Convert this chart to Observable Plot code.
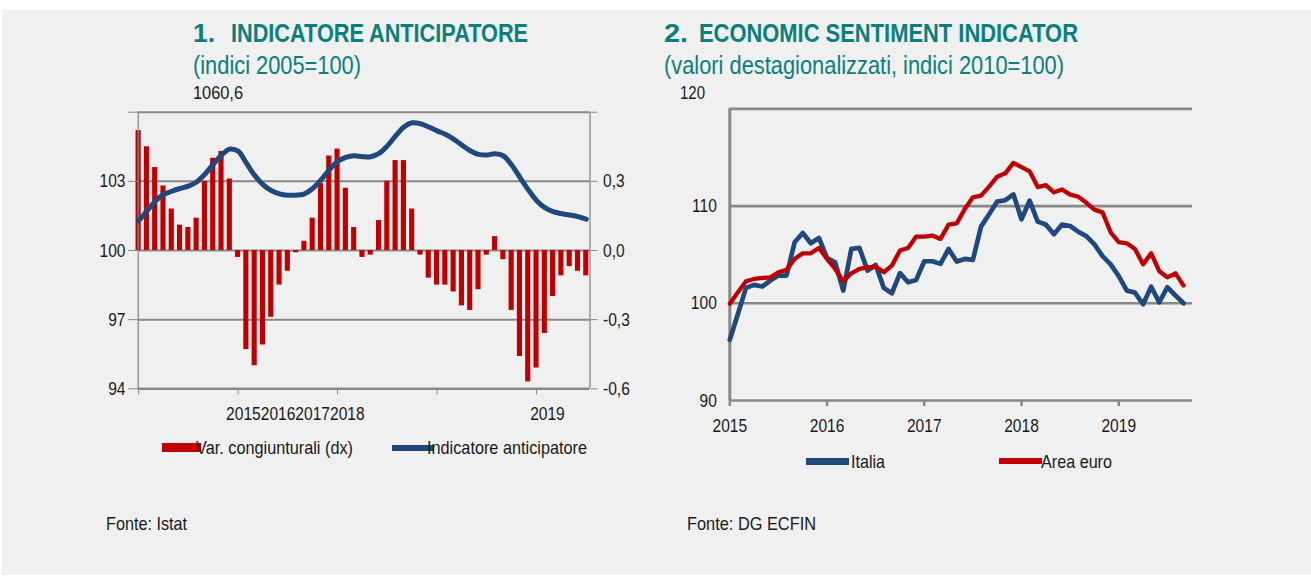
<!DOCTYPE html>
<html><head><meta charset="utf-8">
<script src="https://cdn.jsdelivr.net/npm/d3@7"></script>
<script src="https://cdn.jsdelivr.net/npm/@observablehq/plot@0.6"></script>
<style>
html,body{margin:0;padding:0;background:#fff;}
body{width:1311px;height:578px;overflow:hidden;position:relative;font-family:"Liberation Sans",Arial,sans-serif;}
#bg{position:absolute;left:2px;top:10px;width:1309px;height:565px;background:#f0f0f0;}
.t{position:absolute;white-space:nowrap;line-height:1;color:#1a1a1a;transform-origin:0 50%;}
.sw{position:absolute;}
svg{position:absolute;overflow:visible;}
</style></head>
<body>
<div id="bg"></div>
<script>
// ---------- DATA ----------
const yearLabels = ["2015", "2016", "2017", "2018", "2019"];

// Chart 1: monthly, Jan 2015 - Jul 2019 (55 months)
const varCongiunturali = [
  0.52, 0.45, 0.36, 0.28, 0.18, 0.11, 0.10, 0.14, 0.30, 0.40, 0.43, 0.31,
  -0.03, -0.43, -0.50, -0.41, -0.29, -0.15, -0.09, -0.01, 0.04, 0.14, 0.29, 0.41,
  0.44, 0.27, 0.10, -0.03, -0.02, 0.13, 0.30, 0.39, 0.39, 0.18, -0.02, -0.12,
  -0.15, -0.15, -0.18, -0.24, -0.26, -0.17, -0.02, 0.06, -0.04, -0.26, -0.46, -0.57,
  -0.51, -0.36, -0.20, -0.11, -0.07, -0.09, -0.11
];
const indicatoreAnticipatore = [
  101.29, 101.71, 102.14, 102.43, 102.57, 102.69, 102.79, 102.97, 103.31, 103.74, 104.14, 104.40,
  104.31, 103.79, 103.26, 102.86, 102.60, 102.46, 102.40, 102.40, 102.46, 102.69, 103.06, 103.50,
  103.86, 104.04, 104.11, 104.07, 104.07, 104.21, 104.54, 104.97, 105.36, 105.54, 105.50, 105.36,
  105.19, 105.04, 104.83, 104.57, 104.33, 104.17, 104.14, 104.20, 104.11, 103.71, 103.17, 102.64,
  102.17, 101.86, 101.69, 101.60, 101.54, 101.47, 101.36
];
const leftTicks = [94, 97, 100, 103, 106];

// Chart 2: monthly, Jan 2015 - Sep 2019 (57 months)
const italia = [
  96.24, 98.9, 101.58, 101.89, 101.72, 102.33, 102.85, 102.85, 106.27, 107.23, 106.17, 106.72,
  104.66, 104.21, 101.31, 105.59, 105.69, 103.36, 103.94, 101.58, 101.03, 103.1, 102.16, 102.4,
  104.32, 104.32, 104.05, 105.59, 104.29, 104.56, 104.46, 107.88, 109.16, 110.46, 110.6, 111.2,
  108.64, 110.55, 108.4, 108.1, 107.1, 108.1, 107.95, 107.36, 106.9, 106.05, 104.85, 104.0,
  102.8, 101.3, 101.1, 99.9, 101.7, 100.1, 101.65, 100.8, 100.0
];
const areaEuro = [
  99.94, 101.13, 102.26, 102.5, 102.6, 102.67, 103.19, 103.43, 104.56, 105.14, 105.14, 105.69,
  104.56, 103.53, 102.26, 103.08, 103.53, 103.7, 103.77, 103.19, 103.87, 105.42, 105.69, 106.86,
  106.86, 106.96, 106.62, 108.09, 108.22, 109.7, 110.9, 111.07, 112.0, 113.02, 113.36, 114.44,
  114.0, 113.57, 111.95, 112.15, 111.41, 111.7, 111.17, 110.97, 110.33, 109.63, 109.35, 107.3,
  106.3, 106.17, 105.59, 104.0, 105.14, 103.3, 102.67, 103.08, 101.82
];
const rightTicks = [90, 100, 110, 120];

// ---------- STYLE ----------
const BLUE = "#1f497d", RED = "#c00000", GRID = "#888888", TEAL = "#0b7f7b", INK = "#1a1a1a";
const FONT = "'Liberation Sans',Arial,sans-serif";
const NARROW = 0.82;

function txt(s, x, baseline, size, w, opt = {}) {
  const d = document.createElement("div");
  d.className = "t";
  d.textContent = s;
  d.style.left = x + "px";
  d.style.top = (baseline - 0.8465 * size) + "px";
  d.style.fontSize = size + "px";
  if (opt.bold) d.style.fontWeight = "bold";
  if (opt.color) d.style.color = opt.color;
  document.body.appendChild(d);
  if (w) {
    const k = w / d.getBoundingClientRect().width;
    d.style.transform = `scaleX(${k})`;
  }
}
function sw(x, y, w, h, c) {
  const d = document.createElement("div");
  d.className = "sw";
  Object.assign(d.style, {left: x + "px", top: y + "px", width: w + "px", height: h + "px", background: c});
  document.body.appendChild(d);
}
function condense(svg, k) {
  svg.querySelectorAll("text").forEach(t => {
    const x = +(t.getAttribute("x") || 0);
    const tr = t.getAttribute("transform") || "";
    t.setAttribute("transform", `${tr} translate(${x},0) scale(${k},1) translate(${-x},0)`);
  });
}

// ---------- CHART 1 ----------
const L = varCongiunturali.map((v, i) => ({i, v: 100 + v * 10, ind: indicatoreAnticipatore[i]}));
const fmtRight = d => d === 106 ? "" : ((d - 100) / 10).toFixed(1).replace(".", ",");
const x1dom = [-0.05, 54.45];
const chart1 = Plot.plot({
  width: 600, height: 360,
  marginLeft: 77.7, marginRight: 70.5, marginTop: 31.7, marginBottom: 51.7,
  x: {type: "linear", domain: x1dom},
  y: {domain: [94, 106]},
  style: {background: "transparent", fontFamily: FONT, fontSize: "19px", color: INK},
  marks: [
    Plot.ruleY(leftTicks.slice(1), {stroke: GRID, strokeWidth: 2}),
    Plot.rectY(L, {x1: d => d.i - 0.31, x2: d => d.i + 0.31, y1: 100, y2: "v", fill: RED}),
    Plot.ruleY([94], {stroke: GRID, strokeWidth: 2.5}),
    Plot.ruleX([x1dom[0]], {stroke: GRID, strokeWidth: 1.3}),
    Plot.ruleX([x1dom[1]], {stroke: GRID, strokeWidth: 1.3}),
    Plot.line(L, {x: "i", y: "ind", stroke: BLUE, strokeWidth: 5, curve: "catmull-rom", strokeLinejoin: "round"}),
    Plot.axisY({ticks: leftTicks, anchor: "left", tickSize: 9.7, tickPadding: 3, stroke: GRID,
      tickFormat: d => d === 106 ? "" : String(d), label: null}),
    Plot.axisY({ticks: leftTicks, anchor: "right", tickSize: 7, tickPadding: 6, stroke: GRID,
      tickFormat: fmtRight, label: null}),
    Plot.axisX({ticks: [0, 12, 24, 36, 48], tickSize: 6, stroke: GRID, tickFormat: () => "", label: null}),
    Plot.axisX({ticks: [12], tickSize: 0, tickPadding: 17.4, textAnchor: "start", dx: -12,
      tickFormat: () => yearLabels.slice(0, 4).join(""), label: null}),
    Plot.axisX({ticks: [48], tickSize: 0, tickPadding: 17.4, textAnchor: "start", dx: -6.4,
      tickFormat: () => yearLabels[4], label: null})
  ]
});
condense(chart1, NARROW);
chart1.style.left = "60px"; chart1.style.top = "80px";
document.body.appendChild(chart1);

// ---------- CHART 2 ----------
const R = italia.map((v, i) => ({i, it: v, ea: areaEuro[i]}));
const chart2 = Plot.plot({
  width: 560, height: 370,
  marginLeft: 69.3, marginRight: 28, marginTop: 28.3, marginBottom: 50,
  x: {type: "linear", domain: [0, 57.1]},
  y: {domain: [90, 120]},
  style: {background: "transparent", fontFamily: FONT, fontSize: "19px", color: INK},
  marks: [
    Plot.ruleY(rightTicks.slice(1), {stroke: GRID, strokeWidth: 2.7}),
    Plot.ruleY([90], {stroke: GRID, strokeWidth: 2.7}),
    Plot.ruleX([0], {stroke: GRID, strokeWidth: 3}),
    Plot.line(R, {x: "i", y: "it", stroke: BLUE, strokeWidth: 4.7, strokeLinejoin: "round"}),
    Plot.line(R, {x: "i", y: "ea", stroke: RED, strokeWidth: 4.3, strokeLinejoin: "round"}),
    Plot.axisY({ticks: rightTicks.slice(0, 3), tickSize: 0, tickPadding: 13, label: null}),
    Plot.axisX({ticks: [0, 12, 24, 36, 48], tickSize: 6, tickPadding: 12, stroke: GRID, strokeWidth: 2.5,
      tickFormat: d => yearLabels[d / 12], label: null})
  ]
});
condense(chart2, NARROW);
chart2.style.left = "660px"; chart2.style.top = "80px";
document.body.appendChild(chart2);

// ---------- TEXTS ----------
txt("1.", 193, 42, 26, 22, {bold: true, color: TEAL});
txt("INDICATORE ANTICIPATORE", 231, 42, 26, 297, {bold: true, color: TEAL});
txt("(indici 2005=100)", 193, 74, 26.5, 168, {color: TEAL});
txt("1060,6", 193, 99, 19, 50);
txt("2.", 664, 42, 26, 24, {bold: true, color: TEAL});
txt("ECONOMIC SENTIMENT INDICATOR", 699, 42, 26, 379, {bold: true, color: TEAL});
txt("(valori destagionalizzati, indici 2010=100)", 664, 74, 26.5, 400, {color: TEAL});
txt(String(rightTicks[3]), 680, 99, 19, 25);

sw(162, 443, 39, 9, RED);
txt("Var. congiunturali (dx)", 196, 454, 19, 157);
sw(392, 445, 42, 6, BLUE);
txt("Indicatore anticipatore", 427, 454, 19, 160);

sw(806, 458, 43, 7, BLUE);
txt("Italia", 851, 468.5, 19, 34);
sw(999, 458, 43, 6, RED);
txt("Area euro", 1041, 468.5, 19, 71);

txt("Fonte: Istat", 106, 530, 19, 81);
txt("Fonte: DG ECFIN", 687, 530, 19, 129);
</script>
</body></html>
